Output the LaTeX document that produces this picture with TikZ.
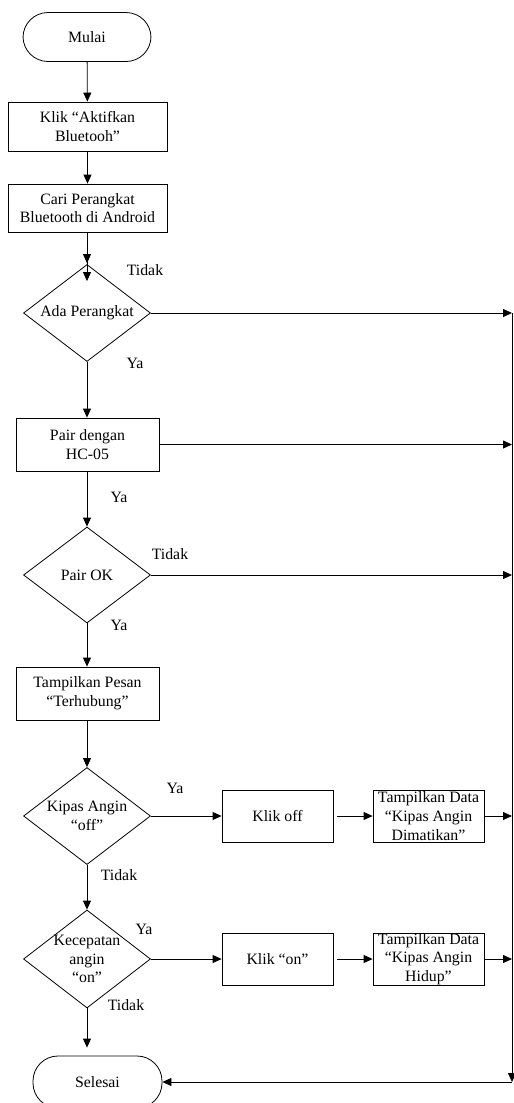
\documentclass[tikz,border=0pt]{standalone}
\usepackage{fontspec}
\setmainfont{Liberation Serif}
\usepackage{tikz}
\usetikzlibrary{shapes.geometric, arrows.meta, positioning}

\tikzset{
  base/.style={draw, line width=0.8pt, align=center, font=\fontsize{15.8}{18.7}\selectfont},
  term/.style={base, rounded corners=25pt, minimum width=128pt, minimum height=49pt},
  proc/.style={base, rectangle, inner sep=1pt},
  dec/.style={base, diamond, inner sep=-9pt, minimum width=127pt, minimum height=97pt},
  lbl/.style={font=\fontsize{15.8}{18.7}\selectfont},
  arr/.style={line width=0.8pt, -{Triangle[length=9pt, width=8pt]}},
  line/.style={line width=0.8pt}
}

\begin{document}
\begin{tikzpicture}[x=1pt, y=-1pt]
    \useasboundingbox (0,0) rectangle (514,1103);
    % main column
    \node[term] (mulai) at (87,37) {Mulai};
    \node[proc, minimum width=159pt, minimum height=49pt] (aktif) at (87.5,126.5) {Klik “Aktifkan\\Bluetooh”};
    \node[proc, minimum width=159pt, minimum height=48pt] (cari) at (87.5,208) {Cari Perangkat\\Bluetooth di Android};
    \node[dec] (ada) at (87,313) {Ada Perangkat};
    \node[proc, minimum width=143pt, minimum height=53pt] (pair) at (87.5,444.5) {Pair dengan\\HC-05};
    \node[dec, minimum height=96pt] (pairok) at (87,575) {Pair OK};
    \node[proc, minimum width=143pt, minimum height=53pt] (pesan) at (87.5,693.5) {Tampilkan Pesan\\“Terhubung”};
    \node[dec] (kipas) at (87,816) {Kipas Angin\\“off”};
    \node[dec, minimum height=98pt] (cepat) at (87,959) {Kecepatan\\angin\\“on”};
    \node[term, minimum width=129pt, minimum height=52pt] (selesai) at (97.5,1082) {Selesai};
    % side boxes
    \node[proc, minimum width=111pt, minimum height=52pt] (off) at (277.5,816) {Klik off};
    \node[proc, minimum width=111pt, minimum height=52pt, inner sep=0pt] (dataoff) at (428.5,816) {Tampilkan Data\\“Kipas Angin\\Dimatikan”};
    \node[proc, minimum width=111pt, minimum height=52pt] (on) at (277.5,959) {Klik “on”};
    \node[proc, minimum width=111pt, minimum height=52pt, inner sep=0pt] (dataon) at (428.5,959) {Tampilkan Data\\“Kipas Angin\\Hidup”};
    % right collector line
    \coordinate (r1) at (512,313);
    \coordinate (r2) at (512,444.5);
    \coordinate (r3) at (512,575);
    \coordinate (r4) at (512,816);
    \coordinate (r5) at (512,959);
    \coordinate (rend) at (512,1082);
    % labels
    \node[lbl] (t1) at (145,270) {Tidak};
    \node[lbl] (y1) at (135,363) {Ya};
    \node[lbl] (y2) at (119,497) {Ya};
    \node[lbl] (t2) at (170,554) {Tidak};
    \node[lbl] (y3) at (119,625) {Ya};
    \node[lbl] (y4) at (175,788) {Ya};
    \node[lbl] (t3) at (119,875) {Tidak};
    \node[lbl] (y5) at (144,929) {Ya};
    \node[lbl] (t4) at (126,1005) {Tidak};
    % connectors
    \draw[arr] (mulai) -- (aktif);
    \draw[arr] (aktif) -- (cari);
    \draw[line width=0.8pt, -{Triangle[length=9pt, width=8pt, sep=9pt] Triangle[length=9pt, width=8pt]}] (cari.south -| ada.north) -- ([yshift=-17pt]ada.north);
    \draw[arr] (ada) -- (pair.north -| ada.south);
    \draw[arr] (pair.south -| pairok.north) -- (pairok);
    \draw[arr] (pairok) -- (pesan.north -| pairok.south);
    \draw[arr] (pesan.south -| kipas.north) -- (kipas);
    \draw[arr] (kipas) -- (cepat);
    \draw[arr, shorten >=8pt] (cepat.south) -- (cepat.south |- selesai.north);
    \draw[arr] (ada.east) -- (r1);
    \draw[arr] (pair.east) -- (r2);
    \draw[arr] (pairok.east) -- (r3);
    \draw[arr] (kipas.east) -- (off.west);
    \draw[arr, shorten <=4pt] (off.east) -- (dataoff.west);
    \draw[arr] (dataoff.east) -- (r4);
    \draw[arr] (cepat.east) -- (on.west);
    \draw[arr, shorten <=4pt] (on.east) -- (dataon.west);
    \draw[arr] (dataon.east) -- (r5);
    \draw[arr] (r1) -- (rend);
    \draw[arr] (rend) -- (selesai.east);
\end{tikzpicture}
\end{document}
